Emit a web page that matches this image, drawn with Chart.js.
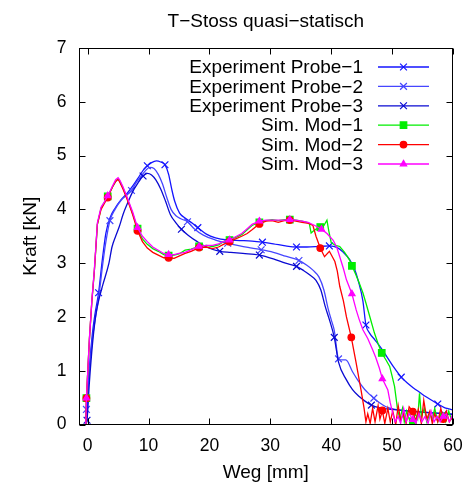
<!DOCTYPE html>
<html><head><meta charset="utf-8">
<script src="https://cdn.jsdelivr.net/npm/chart.js@4"></script>
<style>html,body{margin:0;padding:0;background:#fff}</style>
</head><body>
<canvas id="c" width="468" height="484" style="width:468px;height:484px;display:block"></canvas>
<script>
const titleText = 'T\u2212Stoss quasi\u2212statisch';
const xTitle = 'Weg [mm]';
const yTitle = 'Kraft [kN]';
const xTicks = [0, 10, 20, 30, 40, 50, 60];
const yTicks = [0, 1, 2, 3, 4, 5, 6, 7];
const names = ['Experiment Probe\u22121', 'Experiment Probe\u22122', 'Experiment Probe\u22123', 'Sim. Mod\u22121', 'Sim. Mod\u22122', 'Sim. Mod\u22123'];

const probe1 = [[-0.3,0],[-0.2,0.1],[0.2,0.9],[0.7,1.6],[1.2,2.05],[1.8,2.45],[2.4,3.05],[3.0,3.56],[3.7,3.85],[4.5,4.02],[5.5,4.18],[6.5,4.3],[7.5,4.45],[8.5,4.62],[9.2,4.74],[9.8,4.81],[10.5,4.87],[11.3,4.9],[12.0,4.88],[12.7,4.83],[13.3,4.65],[13.8,4.38],[14.3,4.15],[15.1,3.93],[16.0,3.84],[17.2,3.74],[18.1,3.66],[19.5,3.54],[21.0,3.47],[23.0,3.43],[25.0,3.42],[27.0,3.41],[28.7,3.39],[30.5,3.36],[32.5,3.32],[34.3,3.3],[36.0,3.3],[38.0,3.31],[39.7,3.32],[41.0,3.29],[42.0,3.2],[43.0,3.07],[43.8,2.9],[44.5,2.65],[45.2,2.3],[45.7,1.85],[46.3,1.7],[47.2,1.57],[48.2,1.42],[49.2,1.25],[50.3,1.06],[51.5,0.88],[52.5,0.77],[53.5,0.68],[54.5,0.6],[55.5,0.52],[56.5,0.45],[57.5,0.38],[58.5,0.32],[59.3,0.29],[60,0.27]];
const probe1Marks = [1.8, 9.8, 12.7, 18.1, 28.7, 34.3, 39.7, 45.7, 51.5, 57.5];

const probe2 = [[-0.3,0],[-0.2,0.28],[0.3,1.0],[0.8,1.6],[1.3,2.0],[1.8,2.35],[2.5,3.0],[3.0,3.4],[3.66,3.79],[4.5,4.0],[5.5,4.17],[6.5,4.27],[7.2,4.35],[8.0,4.5],[8.8,4.62],[9.5,4.72],[10.2,4.78],[10.9,4.76],[11.6,4.65],[12.3,4.47],[13.0,4.22],[13.7,4.0],[14.5,3.88],[15.4,3.82],[16.4,3.77],[17.5,3.64],[19.0,3.52],[21.0,3.43],[23.0,3.37],[25.0,3.32],[27.0,3.28],[28.5,3.25],[30.5,3.2],[32.5,3.13],[34.7,3.05],[36.0,2.96],[37.0,2.87],[38.0,2.74],[38.8,2.5],[39.5,2.15],[40.0,1.95],[40.5,1.75],[41.2,1.22],[41.8,1.2],[42.4,1.2],[43.5,0.98],[44.5,0.8],[45.5,0.65],[46.3,0.56],[47.0,0.49],[48.0,0.4],[49.0,0.33],[50.5,0.28],[52.5,0.25],[55.0,0.23],[57.5,0.21],[60,0.2]];
const probe2Marks = [-0.2, 3.66, 7.2, 16.4, 23.0, 28.5, 34.7, 41.2, 47.0];

const probe3 = [[-0.3,0],[-0.1,0.08],[0.3,0.8],[0.8,1.5],[1.3,2.0],[1.8,2.3],[2.5,2.6],[3.5,3.0],[4.0,3.3],[4.6,3.5],[5.2,3.68],[5.8,3.9],[6.5,4.1],[7.4,4.33],[8.2,4.48],[9.1,4.62],[9.8,4.67],[10.5,4.64],[11.2,4.55],[12.0,4.38],[12.8,4.15],[13.6,3.9],[14.5,3.75],[15.4,3.63],[16.5,3.52],[18.0,3.4],[19.5,3.3],[21.7,3.22],[23.5,3.2],[25.5,3.18],[28.2,3.15],[30.5,3.08],[32.5,3.0],[34.3,2.94],[35.5,2.86],[36.5,2.78],[37.5,2.68],[38.3,2.5],[39.0,2.2],[39.7,1.95],[40.5,1.62],[41.2,1.16],[42.5,0.83],[43.5,0.65],[44.6,0.52],[45.6,0.43],[46.6,0.36],[48.0,0.31],[50.0,0.28],[53.0,0.25],[56.0,0.22],[58.5,0.2],[60,0.18]];
const probe3Marks = [-0.1, 9.1, 15.4, 21.7, 28.2, 34.3, 40.5, 46.6, 58.5];

const sim1 = [[-0.3,0],[-0.2,0.49],[0.3,1.6],[0.7,2.3],[1.1,2.85],[1.6,3.72],[2.2,4.02],[2.7,4.12],[3.3,4.24],[4.1,4.42],[4.6,4.52],[5.0,4.57],[5.3,4.52],[5.8,4.4],[6.3,4.26],[6.9,4.08],[7.4,3.92],[8.2,3.64],[9.0,3.45],[9.8,3.35],[10.7,3.27],[11.6,3.22],[12.5,3.16],[13.3,3.14],[14.2,3.15],[15.0,3.17],[16.0,3.24],[17.0,3.26],[18.3,3.31],[19.5,3.33],[20.5,3.31],[21.5,3.34],[22.3,3.4],[23.3,3.43],[24.3,3.48],[25.3,3.53],[26.2,3.62],[27.0,3.7],[28.2,3.76],[29.3,3.79],[30.3,3.81],[31.3,3.79],[32.3,3.81],[33.2,3.81],[34.2,3.8],[35.2,3.78],[36.0,3.76],[36.4,3.74],[36.7,3.56],[37.3,3.62],[38.2,3.67],[38.8,3.7],[39.3,3.8],[39.6,3.6],[40.0,3.38],[40.7,3.33],[41.4,3.31],[42.2,3.2],[43.0,3.06],[43.4,2.95],[44.0,2.8],[44.6,2.63],[45.2,2.45],[45.7,2.26],[46.4,1.98],[47.1,1.7],[47.7,1.5],[48.3,1.33],[49.0,1.2],[49.6,1.08],[50.0,0.9],[50.4,0.71],[50.7,0.45],[50.9,0.27],[51.3,0.1],[51.7,0.3],[52.0,0.05],[52.4,0.25],[52.8,0.1],[53.4,0.06],[53.8,0.2],[54.2,0.1],[54.5,0.58],[54.8,0.15],[55.3,0.3],[55.7,0.05],[56.2,0.2],[56.6,0.1],[57.0,0.3],[57.5,0.05],[58.0,0.2],[58.4,0.15],[58.8,0.05],[59.3,0.25],[59.7,0.1],[60,0.15]];
const sim1Marks = [-0.2, 3.3, 8.2, 13.3, 18.3, 23.3, 28.2, 33.2, 38.2, 43.4, 48.3, 53.4, 58.4];

const sim2 = [[-0.3,0],[-0.2,0.49],[0.3,1.6],[0.7,2.3],[1.1,2.85],[1.6,3.72],[2.2,4.0],[2.7,4.1],[3.3,4.22],[4.1,4.42],[4.6,4.52],[5.0,4.56],[5.3,4.5],[5.8,4.38],[6.3,4.24],[6.9,4.06],[7.4,3.9],[8.2,3.6],[9.0,3.4],[9.8,3.28],[10.7,3.2],[11.6,3.15],[12.5,3.1],[13.3,3.1],[14.2,3.09],[15.0,3.13],[16.0,3.18],[17.0,3.22],[18.3,3.29],[19.5,3.3],[20.5,3.27],[21.5,3.3],[22.3,3.35],[23.3,3.4],[24.3,3.45],[25.3,3.5],[26.2,3.55],[27.0,3.62],[28.2,3.73],[29.3,3.78],[30.3,3.79],[31.3,3.76],[32.3,3.79],[33.2,3.8],[34.2,3.78],[35.2,3.76],[36.3,3.74],[37.0,3.7],[37.5,3.5],[38.2,3.28],[38.9,3.12],[39.7,3.22],[40.6,3.03],[41.0,2.85],[41.4,2.57],[42.0,2.3],[42.5,2.0],[43.3,1.62],[44.1,1.14],[44.9,0.64],[45.4,0.3],[45.7,0.05],[46.0,0.2],[46.4,0.02],[46.8,0.3],[47.2,0.05],[47.7,0.35],[48.0,0.1],[48.4,0.26],[48.8,0.02],[49.3,0.3],[49.7,0.05],[50.1,0.25],[50.6,0.0],[51.0,0.35],[51.4,0.08],[51.9,0.2],[52.3,0.02],[52.8,0.33],[53.4,0.24],[53.9,0.05],[54.3,0.28],[54.8,0.02],[55.2,0.45],[55.7,0.1],[56.2,0.25],[56.6,0.02],[57.0,0.2],[57.5,0.05],[58.0,0.3],[58.4,0.1],[58.9,0.25],[59.4,0.05],[60,0.15]];
const sim2Marks = [-0.2, 3.3, 8.2, 13.3, 18.3, 23.3, 28.2, 33.2, 38.2, 43.3, 48.4, 53.4, 58.4];

const sim3 = [[-0.3,0],[-0.2,0.49],[0.3,1.62],[0.7,2.32],[1.1,2.88],[1.6,3.75],[2.2,4.04],[2.7,4.13],[3.3,4.25],[4.1,4.44],[4.6,4.55],[5.0,4.59],[5.3,4.54],[5.8,4.42],[6.3,4.28],[6.9,4.1],[7.4,3.95],[8.2,3.66],[9.0,3.5],[9.8,3.4],[10.7,3.3],[11.6,3.24],[12.5,3.18],[13.3,3.16],[14.2,3.16],[15.0,3.18],[16.0,3.2],[17.0,3.25],[18.3,3.31],[19.5,3.33],[20.5,3.33],[21.5,3.36],[22.3,3.4],[23.3,3.43],[24.3,3.49],[25.3,3.55],[26.2,3.64],[27.0,3.72],[28.2,3.78],[29.3,3.8],[30.3,3.8],[31.3,3.8],[32.3,3.8],[33.2,3.81],[34.2,3.8],[35.2,3.78],[36.2,3.76],[37.3,3.7],[38.4,3.63],[39.3,3.55],[40.3,3.43],[40.9,3.3],[41.4,3.12],[42.0,2.9],[42.5,2.69],[43.4,2.43],[44.1,2.13],[44.6,1.95],[45.2,1.76],[46.0,1.6],[46.8,1.39],[47.3,1.25],[47.9,1.05],[48.4,0.85],[49.3,0.64],[49.7,0.4],[50.1,0.21],[50.5,0.05],[51.0,0.15],[51.4,0.02],[51.9,0.3],[52.3,0.05],[52.8,0.2],[53.4,0.09],[53.9,0.02],[54.4,0.2],[54.9,0.05],[55.4,0.15],[55.9,0.02],[56.4,0.25],[56.9,0.05],[57.4,0.15],[57.9,0.05],[58.4,0.15],[58.9,0.2],[59.4,0.05],[60,0.2]];
const sim3Marks = [-0.2, 3.3, 8.2, 13.3, 18.3, 23.3, 28.2, 33.2, 38.4, 43.4, 48.4, 53.4, 58.4];

const FONT = "'Liberation Sans', Arial, Helvetica, sans-serif";
const styles = [
  {color:'#1414ff', ps:'crossRot', r:4.8, smooth:true},
  {color:'#4646ff', ps:'crossRot', r:4.8, smooth:true},
  {color:'#0a0ad2', ps:'crossRot', r:4.8, smooth:true},
  {color:'#00ee00', ps:'rect', r:4.6, smooth:false},
  {color:'#ff0000', ps:'circle', r:3.3, smooth:false},
  {color:'#ff00ff', ps:'triangle', r:3.6, smooth:false}
];
const series = [probe1, probe2, probe3, sim1, sim2, sim3];
const marks = [probe1Marks, probe2Marks, probe3Marks, sim1Marks, sim2Marks, sim3Marks];

const datasets = series.map((s, i) => ({
  label: names[i],
  data: s.map(p => ({x: p[0], y: p[1]})),
  showLine: true,
  borderColor: styles[i].color,
  backgroundColor: styles[i].color,
  borderWidth: 1.3,
  tension: 0,
  cubicInterpolationMode: styles[i].smooth ? 'monotone' : 'default',
  pointStyle: styles[i].ps,
  pointBorderColor: styles[i].color,
  pointBackgroundColor: styles[i].color,
  pointBorderWidth: 1.2,
  pointRadius: c => (c.raw && marks[i].includes(c.raw.x)) ? styles[i].r : 0,
  pointHoverRadius: 0,
  order: 6 - i
}));

const decor = {
  id: 'decor',
  afterDatasetsDraw(chart) {
    const ctx = chart.ctx, a = chart.chartArea;
    const xs = chart.scales.x, ys = chart.scales.y;
    ctx.save();
    // legend
    ctx.font = '19px ' + FONT;
    ctx.textAlign = 'right';
    ctx.textBaseline = 'middle';
    for (let i = 0; i < names.length; i++) {
      const y = 67 + i * 19.4;
      ctx.fillStyle = '#000';
      ctx.fillText(names[i], 363, y + 1);
      ctx.strokeStyle = styles[i].color;
      ctx.fillStyle = styles[i].color;
      ctx.lineWidth = 1.3;
      ctx.beginPath(); ctx.moveTo(378, y); ctx.lineTo(429, y); ctx.stroke();
      ctx.lineWidth = 1.2;
      Chart.helpers.drawPoint(ctx, {pointStyle: styles[i].ps, radius: styles[i].r, rotation: 0, borderWidth: 1.2}, 403.5, y);
    }
    // border
    ctx.strokeStyle = '#000';
    ctx.lineWidth = 1;
    const L = Math.round(a.left) + 0.5, R = Math.round(a.right) - 0.5, T = Math.round(a.top) + 0.5, B = Math.round(a.bottom) - 0.5;
    ctx.strokeRect(L, T, R - L, B - T);
    ctx.beginPath();
    xTicks.forEach(v => {
      const x = Math.round(xs.getPixelForValue(v)) + 0.5;
      ctx.moveTo(x, B); ctx.lineTo(x, B - 6);
      ctx.moveTo(x, T); ctx.lineTo(x, T + 6);
    });
    yTicks.forEach(v => {
      const y = Math.round(ys.getPixelForValue(v)) + 0.5;
      ctx.moveTo(L, y); ctx.lineTo(L + 6, y);
      ctx.moveTo(R, y); ctx.lineTo(R - 6, y);
    });
    ctx.stroke();
    // titles
    ctx.fillStyle = '#000';
    ctx.textAlign = 'center';
    ctx.font = '19px ' + FONT;
    ctx.fillText(titleText, (a.left + a.right) / 2, 22);
    ctx.fillText(xTitle, (a.left + a.right) / 2, 473);
    ctx.translate(31, (a.top + a.bottom) / 2);
    ctx.rotate(-Math.PI / 2);
    ctx.fillText(yTitle, 0, 0);
    ctx.restore();
  }
};

new Chart(document.getElementById('c'), {
  type: 'scatter',
  data: {datasets},
  options: {
    responsive: false,
    devicePixelRatio: 1,
    animation: false,
    events: [],
    layout: {padding: {left: 0, right: 15, top: 48, bottom: 0}},
    plugins: {legend: {display: false}, tooltip: {enabled: false}, title: {display: false}},
    scales: {
      x: {
        type: 'linear', min: -1.5, max: 60,
        afterBuildTicks: s => { s.ticks = xTicks.map(v => ({value: v})); },
        afterFit: s => { s.height = 59.5; s.paddingLeft = 0; s.paddingRight = 0; },
        grid: {display: false, drawTicks: false},
        border: {display: false},
        ticks: {padding: 11, color: '#000', font: {family: FONT, size: 17.5}, maxRotation: 0, autoSkip: false}
      },
      y: {
        type: 'linear', min: 0, max: 7,
        afterBuildTicks: s => { s.ticks = yTicks.map(v => ({value: v})); },
        afterFit: s => { s.width = 78.5; s.paddingTop = 0; s.paddingBottom = 0; },
        grid: {display: false, drawTicks: false},
        border: {display: false},
        ticks: {padding: 12, color: '#000', font: {family: FONT, size: 17.5}, autoSkip: false}
      }
    }
  },
  plugins: [decor]
});
</script>
</body></html>
